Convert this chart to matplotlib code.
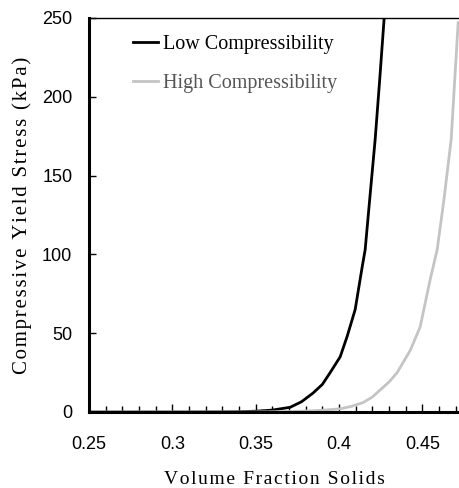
import numpy as np
import matplotlib
matplotlib.use("Agg")
import matplotlib.pyplot as plt
from matplotlib.ticker import MultipleLocator

# Compressive yield stress curves (kPa) against volume fraction solids
phi_low = [0.25, 0.30, 0.33, 0.34, 0.35, 0.36, 0.3707, 0.3775, 0.3844, 0.39, 0.3947,
           0.4007, 0.4049, 0.4097, 0.4139, 0.4157, 0.418, 0.4217, 0.4245, 0.4271]
tau_low = [0.0, 0.0, 0.1, 0.2, 0.5, 1.2, 3.0, 6.5, 12.0, 17.5, 25.0,
           35.0, 48.0, 65.0, 92.0, 103.0, 130.0, 173.0, 212.0, 250.0]

phi_high = [0.25, 0.35, 0.37, 0.38, 0.39, 0.4007, 0.4075, 0.4145, 0.42, 0.4247, 0.43,
            0.4349, 0.4427, 0.4487, 0.4547, 0.4589, 0.463, 0.4673, 0.4715]
tau_high = [0.0, 0.0, 0.3, 0.6, 1.1, 2.0, 3.6, 6.0, 9.5, 14.0, 19.0,
            25.0, 39.0, 54.0, 84.0, 103.0, 135.0, 173.0, 247.0]

x_ticks = [0.25, 0.3, 0.35, 0.4, 0.45]
x_tick_labels = ["0.25", "0.3", "0.35", "0.4", "0.45"]
y_ticks = [0, 50, 100, 150, 200, 250]

serif = ["Liberation Serif", "DejaVu Serif"]
sans = ["Liberation Sans", "DejaVu Sans"]


def tracked(s, sep="\u200a"):
    # loosen the letter spacing of a label
    return sep.join(s)


fig = plt.figure(figsize=(4.59, 4.88), dpi=100)
ax = fig.add_axes([89 / 459, 1 - 412 / 488, 1 - 89 / 459, (412 - 18) / 488])

ax.plot(phi_low, tau_low, color="black", lw=2.0, label="Low Compressibility")
ax.plot(phi_high, tau_high, color="#c4c4c4", lw=2.0, label="High Compressibility")

ax.set_xlim(0.25, 0.472)
ax.set_ylim(0, 250)
ax.set_xticks(x_ticks)
ax.set_xticklabels(x_tick_labels)
ax.set_yticks(y_ticks)
ax.xaxis.set_minor_locator(MultipleLocator(0.01))

for lbl in ax.get_xticklabels() + ax.get_yticklabels():
    lbl.set_family(sans)
    lbl.set_fontsize(13)

ax.tick_params(axis="x", which="major", direction="in", length=6, width=1, pad=17, top=False)
ax.tick_params(axis="x", which="minor", direction="in", length=4, width=1, top=False)
ax.tick_params(axis="y", which="major", direction="in", length=5, width=1, pad=12, right=False)

ax.spines["right"].set_visible(False)
ax.spines["left"].set_linewidth(2.2)
ax.spines["bottom"].set_linewidth(2.2)
ax.spines["top"].set_linewidth(1.0)

xlab = ax.set_xlabel(tracked("Volume Fraction Solids"), family=serif, fontsize=14)
xlab.set_va("baseline")
# baseline sits just above the bottom edge of the figure
ax.xaxis.set_label_coords(0.5, (412 - 484) / 394)
ax.set_ylabel(tracked("Compressive Yield Stress (kPa)"), family=serif,
              fontsize=15, labelpad=7)

leg = ax.legend(loc="upper left", bbox_to_anchor=(0.082, 0.993), frameon=False,
                prop={"family": serif, "size": 14.5}, handlelength=1.24,
                handletextpad=0.25, labelspacing=1.0, borderaxespad=0.3)
leg.get_texts()[1].set_color("#555555")

fig.savefig("out.png", dpi=100)
